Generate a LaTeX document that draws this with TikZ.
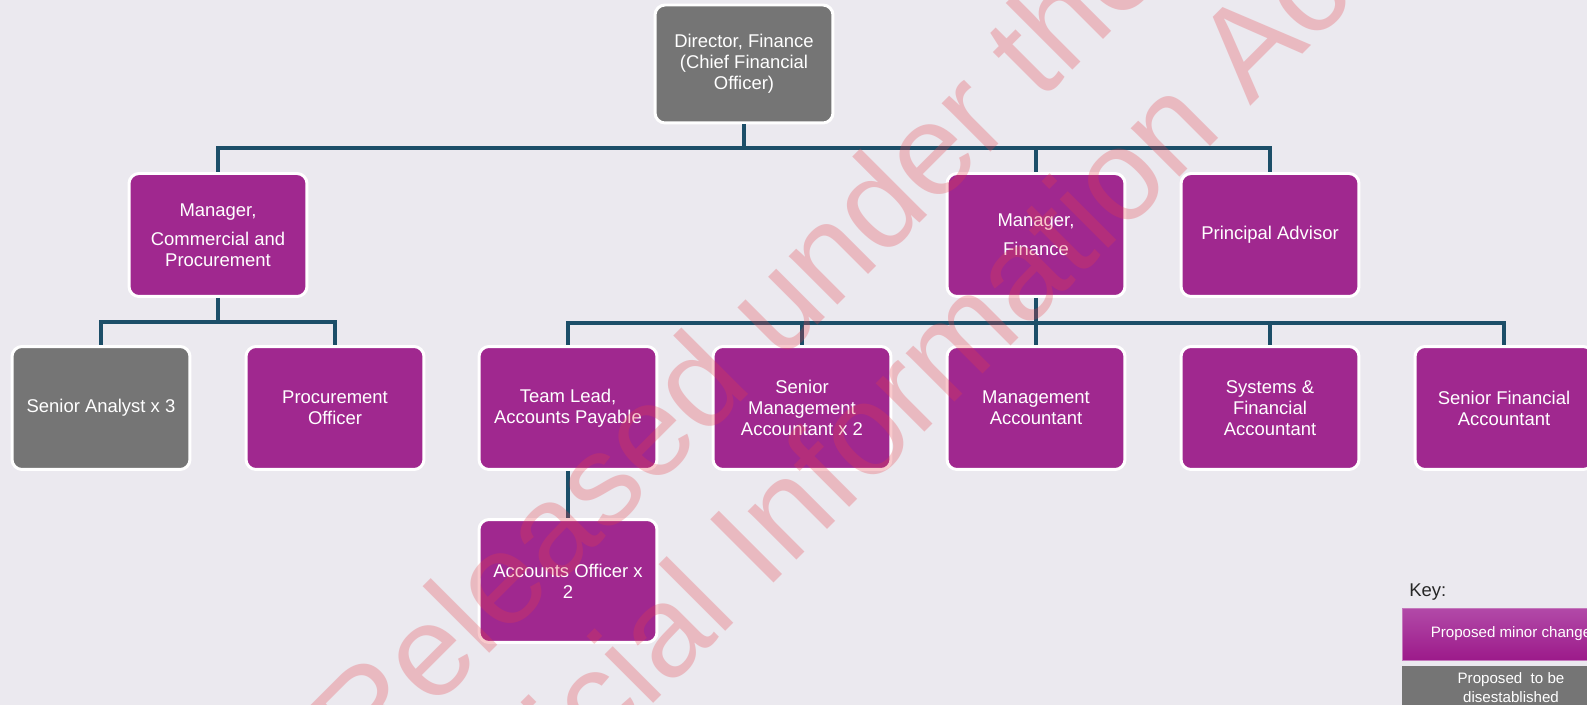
\documentclass[tikz,border=0pt]{standalone}
\usepackage{fontspec}
\setmainfont{Liberation Sans}
\usetikzlibrary{calc}
\definecolor{bgcol}{RGB}{235,233,239}
\definecolor{pbox}{RGB}{160,40,143}
\definecolor{gbox}{RGB}{117,117,117}
\definecolor{lnk}{RGB}{28,78,104}
\definecolor{wmark}{RGB}{230,62,72}
\tikzset{
	role/.style={draw=white, line width=1.7pt, rounded corners=0.2cm, fill=pbox, text=white, align=center,
		minimum width=3.56cm, minimum height=2.46cm, inner sep=0pt, font=\fontsize{10.5}{11.9}\selectfont},
	gone/.style={role, fill=gbox},
	link/.style={draw=lnk, line width=1.8pt},
	keybox/.style={align=center, text=white, minimum width=4.36cm, inner sep=0pt, font=\fontsize{8.6}{10.8}\selectfont},
	wmtext/.style={rotate=45, anchor=base west, inner sep=0pt, text=wmark, opacity=0.28, font=\fontsize{74}{80}\selectfont},
}
\begin{document}
\begin{tikzpicture}[x=0.02cm, y=-0.02cm]
		\clip (0,0) rectangle (1587,705);
		\fill[bgcol] (0,0) rectangle (1587,705);
		\node[gone, minimum height=2.36cm] (dir) at (744,64) {Director, Finance\\(Chief Financial\\Officer)};
		\node[role] (mcp) at (218,235) {Manager,\\[0.16cm]Commercial and\\Procurement};
		\node[role] (mfin) at (1036,235) {Manager,\\[0.16cm]Finance};
		\node[role] (padv) at (1270,235) {Principal Advisor};
		\node[gone] (sanl) at (101,408) {Senior Analyst x 3};
		\node[role] (proc) at (335,408) {Procurement\\Officer};
		\node[role] (tlap) at (568,408) {Team Lead,\\Accounts Payable};
		\node[role] (smac) at (802,408) {Senior\\Management\\Accountant x 2};
		\node[role] (mgac) at (1036,408) {Management\\Accountant};
		\node[role] (sfac) at (1270,408) {Systems \&\\Financial\\Accountant};
		\node[role] (srfa) at (1504,408) {Senior Financial\\Accountant};
		\node[role] (acof) at (568,581) {Accounts Officer x\\2};
		\coordinate (b0) at (744,148);
		\coordinate (b1) at (218,322);
		\coordinate (b2) at (1036,323);
		\draw[link] (dir.south) -- (b0);
		\draw[link] (mcp.south) -- (b1);
		\draw[link] (mfin.south) -- (b2);
		\foreach \c in {mcp,mfin,padv}
			\draw[link] (b0) -| (\c.north);
		\foreach \c in {sanl,proc}
			\draw[link] (b1) -| (\c.north);
		\foreach \c in {tlap,smac,mgac,sfac,srfa}
			\draw[link] (b2) -| (\c.north);
		\draw[link] (tlap.south) -- (acof.north);
		\node[anchor=west, inner sep=0pt, text=black!85, font=\fontsize{10.5}{12}\selectfont] (keyt) at (1409,592) {Key:};
		\node[keybox, minimum height=1.04cm, top color={rgb,255:red,178;green,74;blue,168}, bottom color={rgb,255:red,156;green,26;blue,138},
			draw={rgb,255:red,196;green,120;blue,188}, line width=0.5pt] (keyp) at (1511,634) {Proposed minor change};
		\node[keybox, minimum height=0.88cm, fill=gbox] (keyg) at (1511,688) {Proposed\ \ to be\\disestablished};
		\node[wmtext] (wm1) at (366,777) {Released under the};
		\node[wmtext] (wm2) at (460,897) {Official Information Act};
	\end{tikzpicture}
\end{document}
